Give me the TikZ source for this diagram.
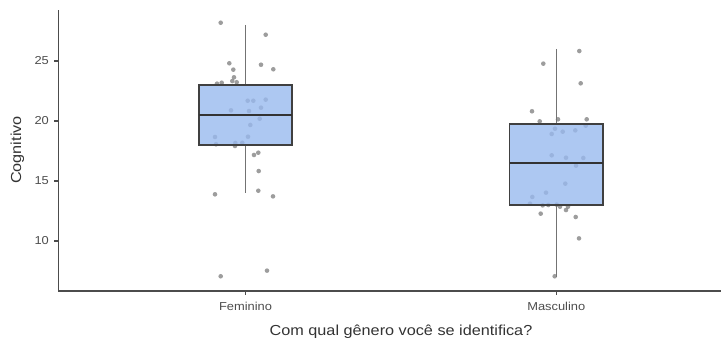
\documentclass[tikz,border=0pt]{standalone}
\usepackage{fontspec}
\setmainfont{Liberation Sans}[FakeStretch=1.12]

\definecolor{boxfill}{HTML}{99BAEF}
\definecolor{jitter}{HTML}{777777}
\definecolor{ticktext}{HTML}{4D4D4D}

\begin{document}
\begin{tikzpicture}[x=1pt,y=1pt,
    axisline/.style={draw=black!70, line width=1.2pt},
    whisker/.style={draw=black!55, line width=1.4pt},
    boxframe/.style={draw=black!75, line width=1.3pt, fill=boxfill, fill opacity=0.8},
    medianline/.style={draw=black!80, line width=2.2pt},
    dot/.style={fill=jitter, fill opacity=0.72},
    ticklabel/.style={inner sep=0pt, text=ticktext, font=\fontsize{11.5}{12}\selectfont},
    axistitle/.style={inner sep=0pt, text=black!80, font=\fontsize{14.5}{16}\selectfont}]

            \useasboundingbox (0,0) rectangle (721,338);

            % Define the box positions and half width
            \def\xf{245.5}  % centre of Feminino
            \def\xm{556.3}  % centre of Masculino
            \def\w{46.6}    % half width of the boxes

            % Axis frame
            \coordinate (O) at (58.5,47);
            \coordinate (Ytop) at (58.5,327.5);
            \coordinate (Xend) at (721,47);
            \draw[axisline] (Ytop) -- (O) -- (Xend);

            % Axis titles
            \node[axistitle, rotate=90] (ylab) at (17.5,188) {Cognitivo};
            \node[axistitle, anchor=base] (xlab) at (401,3) {Com qual gênero você se identifica?};

            % x ticks and group labels
            \coordinate (tf) at (\xf,47);
            \coordinate (tm) at (\xm,47);
            \draw[axisline] (tf) -- ++(0,-4);
            \draw[axisline] (tm) -- ++(0,-4);
            \node[ticklabel, anchor=base] (fem) at (\xf,28) {Feminino};
            \node[ticklabel, anchor=base] (masc) at (\xm,28) {Masculino};

            % Data in units of the score
            \begin{scope}[y=12pt, yshift=-23pt]

            % y ticks
            \foreach \v in {10,15,20,25} {
                \coordinate (yt\v) at (58.5,\v);
                \draw[axisline] (yt\v) -- ++(-4.5pt,0) node[ticklabel, anchor=east, xshift=-4.5pt] {\v};
            }

            % Feminino quartiles and whiskers
            \coordinate (Fq1) at ({\xf-\w},18);
            \coordinate (Fq3) at ({\xf+\w},23);
            \coordinate (Fmedl) at ({\xf-\w},20.5);
            \coordinate (Fmedr) at ({\xf+\w},20.5);
            \coordinate (Fhi) at (\xf,28);
            \coordinate (Ftop) at (\xf,23);
            \coordinate (Fbot) at (\xf,18);
            \coordinate (Flo) at (\xf,14);

            % Masculino quartiles and whiskers
            \coordinate (Mq1) at ({\xm-\w},13);
            \coordinate (Mq3) at ({\xm+\w},19.75);
            \coordinate (Mmedl) at ({\xm-\w},16.5);
            \coordinate (Mmedr) at ({\xm+\w},16.5);
            \coordinate (Mhi) at (\xm,26);
            \coordinate (Mtop) at (\xm,19.75);
            \coordinate (Mbot) at (\xm,13);
            \coordinate (Mlo) at (\xm,7);

            % Draw whiskers
            \draw[whisker] (Fhi) -- (Ftop);
            \draw[whisker] (Fbot) -- (Flo);
            \draw[whisker] (Mhi) -- (Mtop);
            \draw[whisker] (Mbot) -- (Mlo);

            % Jittered points
            \foreach \x/\v in {220.7/28.19, 265.7/27.19, 229.3/24.81, 233.3/24.28, 261/24.69,
                273.3/24.31, 234/23.64, 232.3/23.33, 236.7/23.23, 217/23.11, 221.7/23.19,
                247.7/21.69, 253.3/21.69, 265.7/21.78, 231/20.89, 249/20.83, 261/21.11,
                259.7/20.19, 250.3/19.67, 215/18.67, 248/18.69, 216/18.06, 235.3/18.17,
                242.3/18.19, 235/17.92, 254/17.17, 258.3/17.36, 258.7/15.83, 215/13.89,
                258.3/14.19, 273/13.72, 220.7/7.06, 267/7.53}
                \fill[dot] (\x,\v) circle (2.3pt);
            \foreach \x/\v in {579.3/25.83, 543.3/24.78, 580.7/23.14, 532/20.81, 539.7/19.97,
                558/20.14, 586.7/20.14, 555/19.36, 551.7/18.92, 562.7/19.11, 575.3/19.22,
                585.7/19.61, 551.7/17.14, 566/16.94, 583.3/16.92, 576/16.28, 565.3/14.78,
                546/14.03, 532.3/13.67, 530/13.11, 542.7/12.97, 548.3/13.0, 556.7/13.03,
                560/12.86, 568/12.86, 566/12.58, 540.7/12.28, 575.7/12.0, 579/10.22, 554.7/7.06}
                \fill[dot] (\x,\v) circle (2.3pt);

            % Draw the boxes and medians
            \draw[boxframe] (Fq1) rectangle (Fq3);
            \draw[boxframe] (Mq1) rectangle (Mq3);
            \draw[medianline] (Fmedl) -- (Fmedr);
            \draw[medianline] (Mmedl) -- (Mmedr);

            \end{scope}

\end{tikzpicture}
\end{document}
